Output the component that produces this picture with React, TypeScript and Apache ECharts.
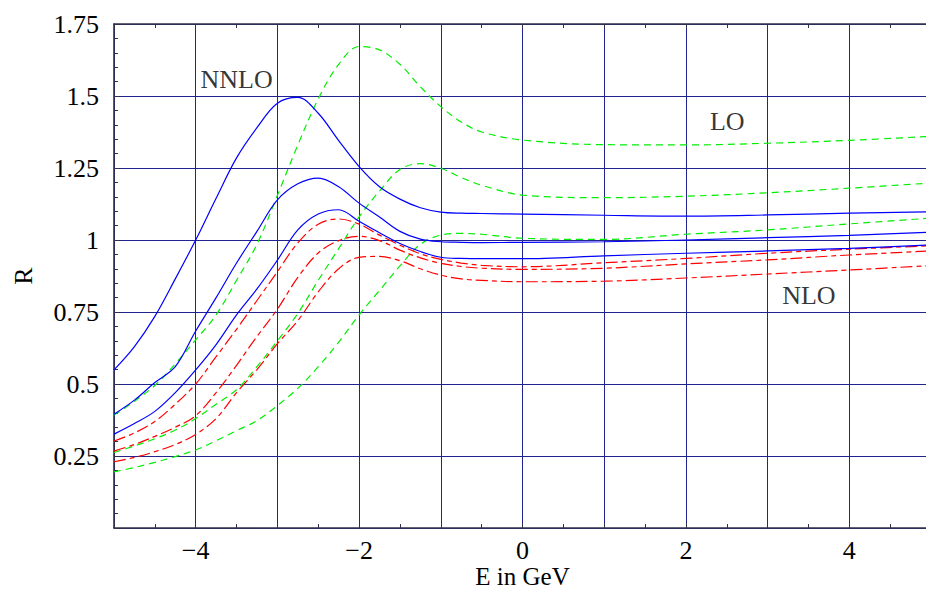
import React, { useEffect, useRef } from "react";
import * as echarts from "echarts";

// Energy grid (GeV) shared by all curves
const xs = [-5, -4.75, -4.5, -4.25, -4, -3.75, -3.5, -3.25, -3, -2.75, -2.5, -2.25, -2, -1.75, -1.5, -1.25, -1, -0.75, -0.5, 0, 1, 2, 3, 4, 5];

// NNLO (blue, solid)
const nnloA = [0.549, 0.63, 0.735, 0.865, 1.0, 1.145, 1.285, 1.39, 1.475, 1.495, 1.44, 1.345, 1.255, 1.185, 1.142, 1.112, 1.097, 1.093, 1.092, 1.09, 1.086, 1.083, 1.087, 1.093, 1.098];
const nnloB = [0.395, 0.444, 0.505, 0.56, 0.684, 0.8, 0.92, 1.03, 1.139, 1.195, 1.215, 1.185, 1.128, 1.08, 1.03, 1.003, 0.994, 0.992, 0.991, 0.992, 0.994, 1.0, 1.008, 1.016, 1.027];
const nnloC = [0.326, 0.363, 0.405, 0.47, 0.549, 0.637, 0.74, 0.83, 0.93, 1.035, 1.09, 1.105, 1.065, 1.025, 0.988, 0.96, 0.94, 0.936, 0.935, 0.935, 0.945, 0.954, 0.962, 0.971, 0.983];

// LO (green, dashed)
const loA = [0.392, 0.44, 0.495, 0.57, 0.653, 0.74, 0.86, 0.985, 1.155, 1.33, 1.49, 1.61, 1.672, 1.66, 1.61, 1.532, 1.463, 1.41, 1.375, 1.347, 1.331, 1.33, 1.336, 1.346, 1.36];
const loB = [0.262, 0.285, 0.31, 0.34, 0.38, 0.43, 0.48, 0.56, 0.65, 0.745, 0.86, 0.97, 1.08, 1.17, 1.245, 1.265, 1.249, 1.217, 1.19, 1.156, 1.147, 1.152, 1.164, 1.18, 1.198];
const loC = [0.195, 0.21, 0.228, 0.248, 0.271, 0.303, 0.338, 0.373, 0.425, 0.485, 0.56, 0.645, 0.74, 0.825, 0.91, 0.985, 1.017, 1.023, 1.02, 1.006, 1.002, 1.02, 1.035, 1.056, 1.076];

// NLO (red, long dash)
const nloA = [0.302, 0.33, 0.37, 0.43, 0.5, 0.595, 0.69, 0.79, 0.89, 0.99, 1.055, 1.073, 1.055, 1.017, 0.982, 0.952, 0.933, 0.92, 0.912, 0.907, 0.921, 0.936, 0.954, 0.968, 0.98];
const nloB = [0.267, 0.29, 0.318, 0.35, 0.39, 0.47, 0.565, 0.665, 0.76, 0.87, 0.955, 0.998, 1.013, 0.998, 0.965, 0.938, 0.919, 0.908, 0.902, 0.898, 0.902, 0.917, 0.931, 0.948, 0.962];
const nloC = [0.23, 0.245, 0.265, 0.29, 0.325, 0.38, 0.47, 0.55, 0.64, 0.72, 0.82, 0.9, 0.94, 0.943, 0.928, 0.9, 0.878, 0.865, 0.86, 0.855, 0.857, 0.868, 0.882, 0.896, 0.911];

// In-plot annotations
const labelTexts = ["NNLO", "LO", "NLO"];
const labelXs = [-3.5, 2.506, 3.505];
const labelYs = [1.559, 1.41, 0.809];

// Axis labels
const xLabelValues = [-4, -2, 0, 2, 4];
const xAxisTitle = "E in GeV";
const yAxisTitle = "R";

const FONT = "'Liberation Serif', 'Times New Roman', serif";
const FS = 26;
const GRID = "#23238f";
const AXIS = "#303048";

export default function App() {
  const ref = useRef<HTMLDivElement>(null);

  useEffect(() => {
    if (!ref.current) return;
    const chart = echarts.init(ref.current, null, { renderer: "svg" });

    const mk = (ys: number[], color: string, dash: any) => ({
      type: "line",
      data: xs.map((x, i) => [x, ys[i]]),
      showSymbol: false,
      smooth: 0.35,
      silent: true,
      clip: true,
      lineStyle: { color, width: 1.2, type: dash },
      z: 3,
    });

    const fmtX = (v: number) => {
      if (!xLabelValues.includes(v)) return "";
      return v < 0 ? "\u2212" + Math.abs(v) : String(v);
    };

    const option: any = {
      animation: false,
      backgroundColor: "#ffffff",
      grid: { left: 114, top: 24, width: 817, height: 504, containLabel: false, outerBoundsMode: "none" },
      xAxis: [
        {
          type: "value",
          min: -5,
          max: 5,
          interval: 1,
          position: "bottom",
          name: xAxisTitle,
          nameLocation: "middle",
          nameGap: 48,
          nameMoveOverlap: false,
          nameTextStyle: { fontFamily: FONT, fontSize: 25, color: "#000", lineHeight: 20, verticalAlign: "middle" },
          axisLine: { show: true, onZero: false, lineStyle: { color: AXIS, width: 1.6 } },
          axisTick: { show: true, inside: true, length: 5, lineStyle: { color: AXIS } },
          minorTick: { show: true, splitNumber: 2, length: 4, lineStyle: { color: AXIS } },
          axisLabel: { formatter: fmtX, fontFamily: FONT, fontSize: FS, color: "#000", margin: 9, showMinLabel: true, showMaxLabel: true },
          splitLine: { show: true, lineStyle: { color: GRID, width: 1 } },
        },
        {
          type: "value",
          min: -5,
          max: 5,
          interval: 1,
          position: "top",
          axisLine: { show: true, onZero: false, lineStyle: { color: AXIS, width: 1.6 } },
          axisTick: { show: true, inside: true, length: 5, lineStyle: { color: AXIS } },
          minorTick: { show: true, splitNumber: 2, length: 4, lineStyle: { color: AXIS } },
          axisLabel: { show: false },
          splitLine: { show: false },
        },
      ],
      yAxis: {
        type: "value",
        min: 0,
        max: 1.75,
        interval: 0.25,
        name: yAxisTitle,
        nameLocation: "middle",
        nameGap: 78,
        nameRotate: 90,
        nameTextStyle: { fontFamily: FONT, fontSize: FS, color: "#000" },
        axisLine: { show: true, onZero: false, lineStyle: { color: AXIS, width: 1.6 } },
        axisTick: { show: true, inside: true, length: 5, lineStyle: { color: AXIS } },
        minorTick: { show: true, splitNumber: 5, length: 4, lineStyle: { color: AXIS } },
        axisLabel: {
          formatter: (v: number) => (v === 0 ? "" : String(v)),
          fontFamily: FONT,
          fontSize: FS,
          color: "#000",
          margin: 15,
        },
        splitLine: { show: true, lineStyle: { color: GRID, width: 1 } },
      },
      series: [
        mk(loA, "#00ee00", [7, 5]),
        mk(loB, "#00ee00", [7, 5]),
        mk(loC, "#00ee00", [7, 5]),
        mk(nloA, "#ff0000", [12, 4, 5, 4]),
        mk(nloB, "#ff0000", [12, 4, 5, 4]),
        mk(nloC, "#ff0000", [12, 4, 5, 4]),
        mk(nnloA, "#0000ff", "solid"),
        mk(nnloB, "#0000ff", "solid"),
        mk(nnloC, "#0000ff", "solid"),
        {
          type: "scatter",
          symbolSize: 0,
          silent: true,
          data: labelTexts.map((t, i) => ({ value: [labelXs[i], labelYs[i]], name: t })),
          label: {
            show: true,
            position: "inside",
            formatter: (p: any) => p.name,
            fontFamily: FONT,
            fontSize: FS,
            color: "#000",
          },
          z: 5,
        },
      ],
    };

    chart.setOption(option);
    return () => chart.dispose();
  }, []);

  return (
    <div
      ref={ref}
      style={{ position: "absolute", left: 0, top: 0, width: 926, height: 591, background: "#fff" }}
    />
  );
}
